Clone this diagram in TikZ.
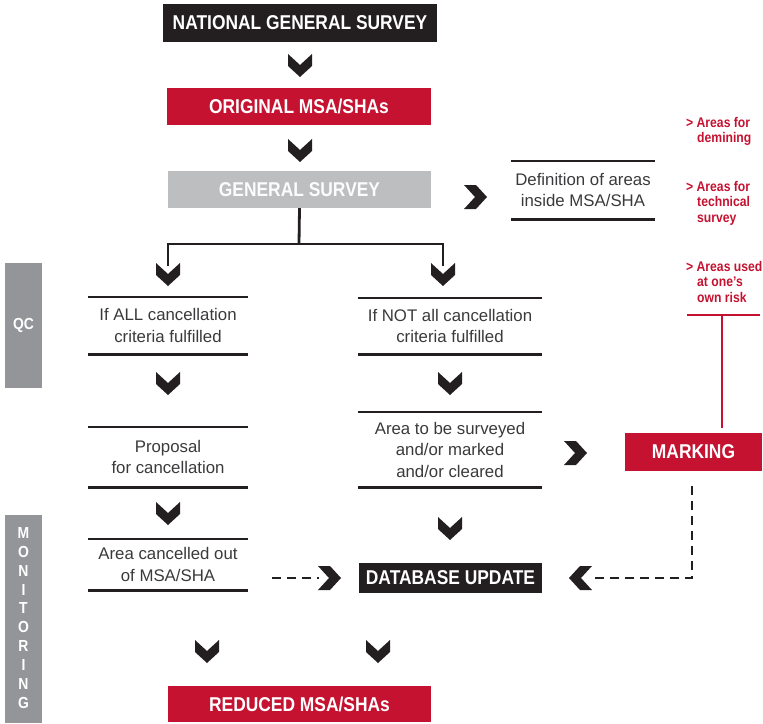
\documentclass[tikz,border=0pt]{standalone}
\usepackage{fontspec}
\setmainfont{Liberation Sans}
\newfontfamily\condb{Liberation Sans Bold}[FakeStretch=0.87]
\usetikzlibrary{calc}
\definecolor{nearblack}{HTML}{231F20}
\definecolor{redbox}{HTML}{C41230}
\definecolor{lightgray}{HTML}{BCBEC0}
\definecolor{sidegray}{HTML}{939598}
\definecolor{bodytext}{HTML}{3A3A3C}
\tikzset{
  boxlabel/.style={inner sep=0, text=white, font=\condb\fontsize{20}{23}\selectfont},
  blackbox/.style={boxlabel, fill=nearblack},
  redlabel/.style={boxlabel, fill=redbox},
  graylabel/.style={boxlabel, fill=lightgray, text=white!95!lightgray},
  ruled/.style={inner sep=0, align=center, text=bodytext, font=\fontsize{16.8}{21.5}\selectfont},
  rule/.style={draw=nearblack, line width=2.6pt},
  conn/.style={draw=nearblack, line width=2.8pt},
  dashconn/.style={draw=nearblack, line width=2.6pt, dash pattern=on 9pt off 6pt},
  redline/.style={draw=redbox, line width=2.8pt},
  redtext/.style={inner sep=0, anchor=north west, align=left, text=redbox, font=\condb\fontsize{14}{15.5}\selectfont},
  sidebar/.style={fill=sidegray, draw=none},
  sidetext/.style={inner sep=0, text=white, align=center, font=\condb\fontsize{16}{18.9}\selectfont},
  chevD/.pic={\fill[nearblack] (-12,-11) -- (0,0) -- (12,-11) -- (12,1) -- (0,12) -- (-12,1) -- cycle;},
  chevR/.pic={\fill[nearblack] (-11,-12) -- (0,0) -- (-11,12) -- (1,12) -- (12,0) -- (1,-12) -- cycle;},
  chevL/.pic={\fill[nearblack] (11,-12) -- (0,0) -- (11,12) -- (-1,12) -- (-12,0) -- (-1,-12) -- cycle;},
}
\begin{document}
\begin{tikzpicture}[x=1pt,y=-1pt]
\useasboundingbox (0,0) rectangle (763,723);

% side bars
\fill[sidebar] (5,263) rectangle (42,388);
\node[sidetext] (qc) at (23.5,325.5) {QC};
\fill[sidebar] (5,515) rectangle (42,723);
\node[sidetext] (mon) at (23.5,618) {M\\O\\N\\I\\T\\O\\R\\I\\N\\G};

% main boxes
\node[blackbox, minimum width=274, minimum height=38] (ngs) at (300,23) {NATIONAL GENERAL SURVEY};
\node[redlabel, minimum width=264, minimum height=37] (orig) at (299,106.5) {ORIGINAL MSA/SHAs};
\node[graylabel, minimum width=263, minimum height=37] (gs) at (299.5,189.5) {GENERAL SURVEY};
\node[redlabel, minimum width=137, minimum height=38] (mark) at (693.5,452) {MARKING};
\node[blackbox, minimum width=183, minimum height=30] (db) at (450.5,578) {DATABASE UPDATE};
\node[redlabel, minimum width=263, minimum height=36] (red) at (299.5,704) {REDUCED MSA/SHAs};

% ruled text nodes
\node[ruled, minimum width=144, minimum height=58] (def) at (583,190) {Definition of areas\\inside MSA/SHA};
\node[ruled, minimum width=160, minimum height=57] (l1) at (168,325.5) {If ALL cancellation\\criteria fulfilled};
\node[ruled, minimum width=160, minimum height=60] (l2) at (168,457) {Proposal\\for cancellation};
\node[ruled, minimum width=160, minimum height=51] (l3) at (168,564.5) {Area cancelled out\\of MSA/SHA};
\node[ruled, minimum width=184, minimum height=56] (r1) at (450,326) {If NOT all cancellation\\criteria fulfilled};
\node[ruled, minimum width=184, minimum height=75] (r2) at (450,449.5) {Area to be surveyed\\and/or marked\\and/or cleared};
\foreach \n in {def,l1,l2,l3,r1,r2}{
  \draw[rule] (\n.north west) -- (\n.north east);
  \draw[rule] (\n.south west) -- (\n.south east);
}

% red side notes
\node[redtext] (n1) at (686,117) {> Areas for\\\hspace*{11pt}demining};
\node[redtext] (n2) at (686,181) {> Areas for\\\hspace*{11pt}technical\\\hspace*{11pt}survey};
\node[redtext] (n3) at (686,261) {> Areas used\\\hspace*{11pt}at one’s\\\hspace*{11pt}own risk};
\coordinate (rl) at (687,315);
\coordinate (rr) at (760,315);
\coordinate (rj) at (722,315);
\draw[redline] (rl) -- (rr);
\draw[redline] (rj) -- ($(rj |- mark.north)+(0,-5)$);

% chevrons
\pic at (300,65) {chevD};
\pic at (300,150) {chevD};
\pic at (475,197) {chevR};
\pic at (168,383) {chevD};
\pic at (450,383) {chevD};
\pic at (575,453) {chevR};
\pic at (168,513) {chevD};
\pic at (450,528) {chevD};
\pic at (207,651) {chevD};
\pic at (378,651) {chevD};

% tree connector
\coordinate (split) at (299,244);
\coordinate (a1) at (168,266);
\coordinate (a2) at (443,266);
\draw[conn] (gs.south) -- (split);
\draw[conn] (a1) |- (split) -| (a2);
\pic at (168,274) {chevD};
\pic at (443,274) {chevD};

% dashed connectors
\coordinate (d1s) at (272,578);
\coordinate (d1e) at (319,578);
\draw[dashconn] (d1s) -- (d1e);
\pic at (329,578) {chevR};
\coordinate (d2s) at (692,486);
\coordinate (d2c) at (692,578);
\coordinate (d2e) at (591,578);
\draw[dashconn] (d2s) -- (d2c) -- (d2e);
\pic at (581,578) {chevL};
\end{tikzpicture}
\end{document}
